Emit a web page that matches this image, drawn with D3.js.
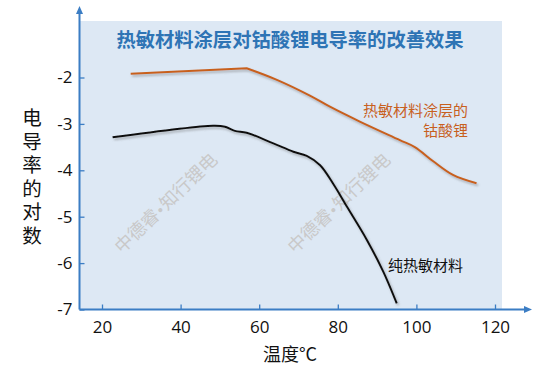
<!DOCTYPE html>
<html>
<head>
<meta charset="utf-8">
<script src="https://cdn.jsdelivr.net/npm/d3@7"></script>
<style>
  body { margin: 0; background: #fff; }
  svg { display: block; font-family: "Noto Sans", "Noto Sans CJK SC", sans-serif; }
</style>
</head>
<body>
<div id="chart"></div>
<script>
// data
const xTicks = [20, 40, 60, 80, 100, 120];
const yTicks = [-7, -6, -5, -4, -3, -2];

// coated LiCoO2 (orange); the curve has a corner at its peak (index 1)
const coatedTemp = [27.3, 56.8, 64.5, 72.9, 78.0, 85.6, 95.8, 99.6, 104.2, 109.3, 115.3];
const coatedLog  = [-1.92, -1.80, -2.05, -2.39, -2.63, -2.95, -3.35, -3.50, -3.80, -4.10, -4.28];

// pure thermosensitive material (black)
const pureTemp = [22.7, 48.3, 51.3, 53.8, 56.8, 63.6, 68.7, 72.1, 75.5, 78.9, 82.3, 87.4, 91.6, 95.0];
const pureLog  = [-3.29, -3.04, -3.06, -3.15, -3.19, -3.42, -3.60, -3.69, -3.89, -4.30, -4.78, -5.50, -6.19, -6.87];

const title = '热敏材料涂层对钴酸锂电导率的改善效果';
const yLabel = '电导率的对数';
const xLabel = '温度°C';
const watermark = ['中德睿', '•', '知行锂电'];

const W = 554, H = 378;
const axisBlue = '#3b7dc4';
const orange = '#c8601e';
const cjk = '"Noto Sans CJK SC", sans-serif';

const svg = d3.select('#chart').append('svg')
    .attr('width', W)
    .attr('height', H);

const defs = svg.append('defs');
const shadow = defs.append('filter').attr('id', 'shadow')
    .attr('x', '-10%').attr('y', '-10%').attr('width', '130%').attr('height', '130%');
shadow.append('feDropShadow')
    .attr('dx', 1.5).attr('dy', 2)
    .attr('stdDeviation', 1.2)
    .attr('flood-color', '#666')
    .attr('flood-opacity', 0.45);

const x = d3.scaleLinear().domain([20, 120]).range([102, 495]);
const y = d3.scaleLinear().domain([-7, -2]).range([309.5, 77.5]);

const left = 79.5, bottom = 309.5;

// plot background
svg.append('rect')
    .attr('x', left)
    .attr('y', 21)
    .attr('width', 502 - left)
    .attr('height', bottom - 21)
    .attr('fill', '#dde8f4');

// title
svg.append('text')
    .attr('x', 290)
    .attr('y', 47)
    .attr('text-anchor', 'middle')
    .attr('font-family', cjk)
    .attr('font-size', 19.3)
    .attr('font-weight', 'bold')
    .attr('fill', '#2e74b5')
    .text(title);

// watermarks
[[166, 203], [339, 203]].forEach(([cx, cy]) => {
    const t = svg.append('text')
        .attr('transform', `translate(${cx},${cy}) rotate(-44)`)
        .attr('text-anchor', 'middle')
        .attr('dy', '0.35em')
        .attr('font-family', cjk)
        .attr('font-size', 18)
        .attr('fill', '#c9c9c9');
    t.append('tspan').text(watermark[0]);
    t.append('tspan').attr('font-family', '"DejaVu Sans", sans-serif').attr('font-size', 14).text(watermark[1]);
    t.append('tspan').text(watermark[2]);
});

// axes
const xAxis = d3.axisBottom(x).tickValues(xTicks).tickSizeInner(-5).tickSizeOuter(0).tickPadding(11);
const yAxis = d3.axisLeft(y).tickValues(yTicks).tickSizeInner(-5).tickSizeOuter(0).tickPadding(7)
    .tickFormat(d => d);

const gx = svg.append('g')
    .attr('transform', `translate(0,${bottom})`)
    .call(xAxis);
const gy = svg.append('g')
    .attr('transform', `translate(${left},0)`)
    .call(yAxis);

[gx, gy].forEach(g => {
    g.select('.domain').remove();
    g.selectAll('.tick line').attr('stroke', axisBlue).attr('stroke-width', 1.3);
    g.selectAll('.tick text')
        .attr('fill', '#111')
        .attr('font-size', 17)
        .attr('font-family', '"Open Sans", "Noto Sans", sans-serif');
});

// axis lines with arrows
svg.append('line')
    .attr('x1', left).attr('y1', bottom)
    .attr('x2', left).attr('y2', 12)
    .attr('stroke', axisBlue).attr('stroke-width', 2);
svg.append('path')
    .attr('d', `M${left - 3.5},14 L${left},6 L${left + 3.5},14 Z`)
    .attr('fill', axisBlue);
svg.append('line')
    .attr('x1', left).attr('y1', bottom)
    .attr('x2', 526).attr('y2', bottom)
    .attr('stroke', axisBlue).attr('stroke-width', 2);
svg.append('path')
    .attr('d', `M524,${bottom - 3.5} L532,${bottom} L524,${bottom + 3.5} Z`)
    .attr('fill', axisBlue);

// curves
const smooth = d3.line()
    .x(d => x(d[0]))
    .y(d => y(d[1]))
    .curve(d3.curveCatmullRom.alpha(0.5));
const straight = d3.line()
    .x(d => x(d[0]))
    .y(d => y(d[1]));

const coated = d3.zip(coatedTemp, coatedLog);
const coatedG = svg.append('g').attr('filter', 'url(#shadow)');
coatedG.append('path')
    .attr('d', straight(coated.slice(0, 2)) + smooth(coated.slice(1)).replace(/^M/, 'L'))
    .attr('fill', 'none')
    .attr('stroke', orange)
    .attr('stroke-width', 2)
    .attr('stroke-linejoin', 'miter');

svg.append('path')
    .datum(d3.zip(pureTemp, pureLog))
    .attr('d', smooth)
    .attr('fill', 'none')
    .attr('stroke', '#111')
    .attr('stroke-width', 2)
    .attr('filter', 'url(#shadow)');

// series labels
svg.append('text')
    .attr('x', 468).attr('y', 116)
    .attr('text-anchor', 'end')
    .attr('font-family', cjk)
    .attr('font-size', 15)
    .attr('fill', orange)
    .text('热敏材料涂层的');
svg.append('text')
    .attr('x', 468).attr('y', 136)
    .attr('text-anchor', 'end')
    .attr('font-family', cjk)
    .attr('font-size', 15)
    .attr('fill', orange)
    .text('钴酸锂');
svg.append('text')
    .attr('x', 388).attr('y', 271)
    .attr('font-family', cjk)
    .attr('font-size', 15)
    .attr('fill', '#111')
    .text('纯热敏材料');

// y label, written vertically as one text
svg.append('text')
    .attr('x', 32)
    .attr('y', 108)
    .attr('writing-mode', 'vertical-rl')
    .attr('letter-spacing', 4)
    .attr('font-family', cjk)
    .attr('font-size', 19.5)
    .attr('fill', '#111')
    .text(yLabel);

// x label
svg.append('text')
    .attr('x', 290)
    .attr('y', 355)
    .attr('dy', '0.35em')
    .attr('text-anchor', 'middle')
    .attr('font-family', cjk)
    .attr('font-size', 18)
    .attr('fill', '#111')
    .text(xLabel);
</script>
</body>
</html>
